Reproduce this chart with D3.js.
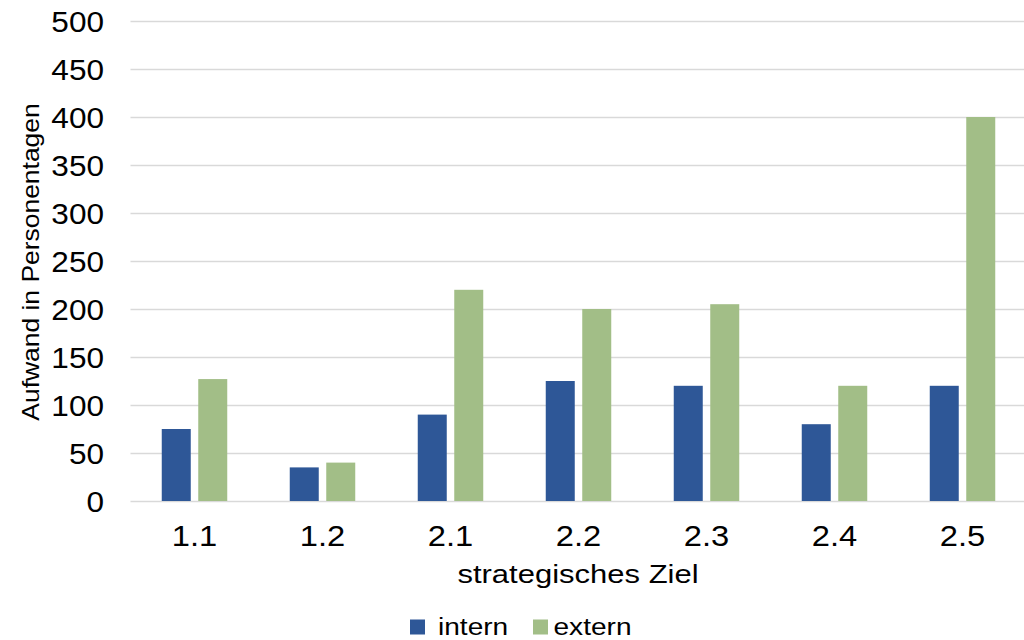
<!DOCTYPE html>
<html>
<head>
<meta charset="utf-8">
<script src="https://cdn.jsdelivr.net/npm/d3@7"></script>
<style>
  html, body { margin: 0; padding: 0; background: #fff; }
  svg { display: block; font-family: "Liberation Sans", Arial, sans-serif; }
</style>
</head>
<body>
<svg id="chart" width="1024" height="640"></svg>
<script>
// Effort per strategic goal, in person-days
const categories = ["1.1", "1.2", "2.1", "2.2", "2.3", "2.4", "2.5"];
const internValues = [75, 35, 90, 125, 120, 80, 120];
const externValues = [127, 40, 220, 200, 205, 120, 400];
const seriesNames = ["intern", "extern"];
const yTicks = [0, 50, 100, 150, 200, 250, 300, 350, 400, 450, 500];

const colors = { intern: "#2E5797", extern: "#A2BE87" };

const svg = d3.select("#chart");
const plot = { left: 130.5, right: 1026.5, top: 21, bottom: 501 };

const x = d3.scaleBand()
  .domain(categories)
  .range([plot.left, plot.right])
  .paddingInner(0)
  .paddingOuter(0);

const y = d3.scaleLinear()
  .domain([0, 500])
  .range([plot.bottom, plot.top]);

// Text in this chart is set slightly wide
const place = (px, py, sx) => `translate(${px},${py}) scale(${sx},1)`;

// Horizontal gridlines
svg.append("g")
  .selectAll("line")
  .data(yTicks)
  .join("line")
  .attr("x1", plot.left)
  .attr("x2", 1024)
  .attr("y1", d => Math.round(y(d)) + 0.5)
  .attr("y2", d => Math.round(y(d)) + 0.5)
  .attr("stroke", "#D9D9D9")
  .attr("stroke-width", 1.5);

// Y tick labels
svg.append("g")
  .selectAll("text")
  .data(yTicks)
  .join("text")
  .attr("transform", d => place(104, y(d), 1.07))
  .attr("dy", "0.36em")
  .attr("text-anchor", "end")
  .attr("font-size", 29.5)
  .attr("fill", "#000")
  .text(d => d);

// Bars, grouped by category
const barW = 29;
const gap = 7.5;
const rows = categories.map((c, i) => ({ cat: c, intern: internValues[i], extern: externValues[i] }));

const groups = svg.append("g")
  .selectAll("g")
  .data(rows)
  .join("g")
  .attr("transform", d => `translate(${x(d.cat) + x.bandwidth() / 2},0)`);

groups.selectAll("rect")
  .data(d => seriesNames.map((s, k) => ({ s, k, v: d[s] })))
  .join("rect")
  .attr("x", d => d.k === 0 ? -barW - gap / 2 : gap / 2)
  .attr("width", barW)
  .attr("y", d => y(d.v))
  .attr("height", d => y(0) - y(d.v))
  .attr("fill", d => colors[d.s]);

// X category labels
svg.append("g")
  .selectAll("text")
  .data(categories)
  .join("text")
  .attr("transform", d => place(x(d) + x.bandwidth() / 2, 546, 1.09))
  .attr("text-anchor", "middle")
  .attr("font-size", 30)
  .attr("fill", "#000")
  .text(d => d);

// Axis titles
svg.append("text")
  .attr("transform", place(578, 582.5, 1.24))
  .attr("text-anchor", "middle")
  .attr("font-size", 25)
  .attr("fill", "#000")
  .text("strategisches Ziel");

svg.append("text")
  .attr("transform", "translate(38.5,262) rotate(-90) scale(1.15,1)")
  .attr("text-anchor", "middle")
  .attr("font-size", 23)
  .attr("fill", "#000")
  .text("Aufwand in Personentagen");

// Legend
const legend = svg.append("g");
const legendItems = [
  { name: seriesNames[0], sx: 410, tx: 438 },
  { name: seriesNames[1], sx: 533, tx: 553.5 }
];
legend.selectAll("rect")
  .data(legendItems)
  .join("rect")
  .attr("x", d => d.sx)
  .attr("y", 619.5)
  .attr("width", 15)
  .attr("height", 15)
  .attr("fill", d => colors[d.name]);
legend.selectAll("text")
  .data(legendItems)
  .join("text")
  .attr("transform", d => place(d.tx, 634.5, 1.17))
  .attr("font-size", 24)
  .attr("fill", "#000")
  .text(d => d.name);
</script>
</body>
</html>
